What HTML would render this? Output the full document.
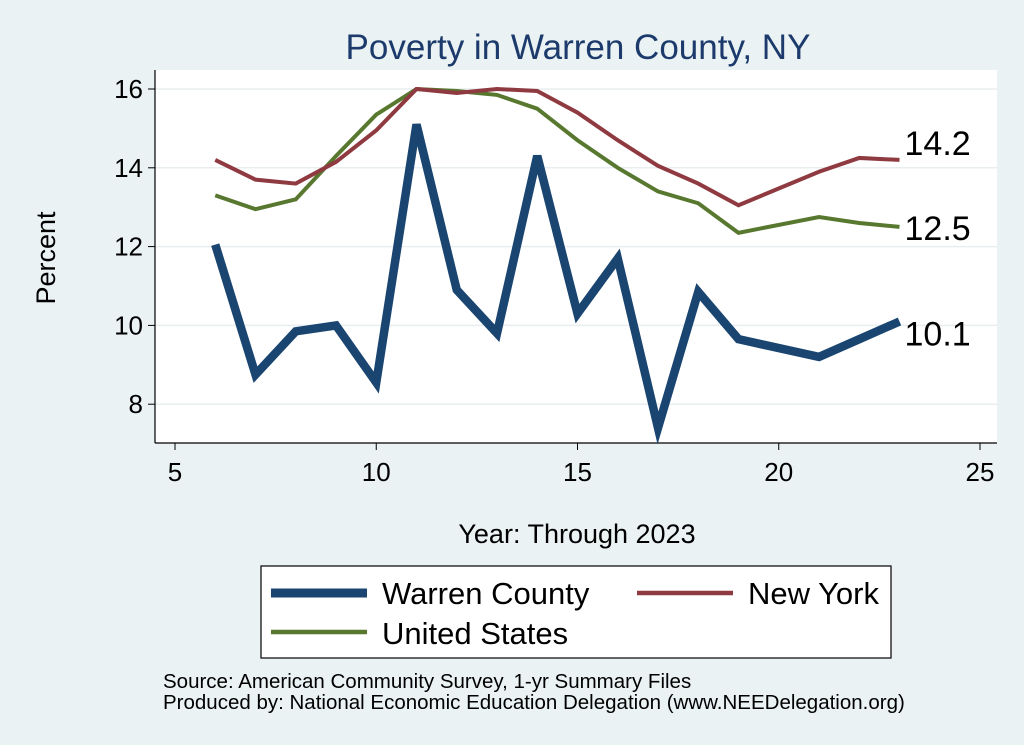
<!DOCTYPE html>
<html><head><meta charset="utf-8"><style>
body{margin:0;background:#eaf2f3;font-family:"Liberation Sans",Arial,sans-serif}
svg{display:block}
</style></head><body>
<svg id="chart" width="1024" height="745" viewBox="0 0 1024 745" xmlns="http://www.w3.org/2000/svg">
<rect width="1024" height="745" fill="#eaf2f3"/>
<rect x="155" y="70" width="842" height="373" fill="#ffffff"/>
<text x="578" y="59" text-anchor="middle" font-size="35" fill="#1c3a6b">Poverty in Warren County, NY</text>
<g id="grid"></g>
<line x1="155" y1="70" x2="155" y2="443" stroke="#000" stroke-width="1.2"/>
<line x1="155" y1="443" x2="997" y2="443" stroke="#000" stroke-width="1.2"/>
<g id="ticks"></g>
<g id="series"></g>
<text x="55" y="258" text-anchor="middle" font-size="27" transform="rotate(-90 55 258)">Percent</text>
<text x="577" y="543" text-anchor="middle" font-size="27">Year: Through 2023</text>
<g>
<rect x="261" y="566" width="630" height="92" fill="#fff" stroke="#000" stroke-width="1.2"/>
<g><line x1="271" y1="593" x2="367" y2="593" stroke="#1a4571" stroke-width="9"/><text x="382" y="604" font-size="31">Warren County</text></g>
<g><line x1="637" y1="593" x2="733" y2="593" stroke="#8f3a40" stroke-width="4.5"/><text x="748" y="604" font-size="31">New York</text></g>
<g><line x1="271" y1="632" x2="367" y2="632" stroke="#58782f" stroke-width="4.5"/><text x="382" y="644" font-size="31">United States</text></g>
</g>
<text x="163" y="688" font-size="20.5">Source: American Community Survey, 1-yr Summary Files</text>
<text x="163" y="709" font-size="20.5">Produced by: National Economic Education Delegation (www.NEEDelegation.org)</text>
</svg>
<script>
const years=[6,7,8,9,10,11,12,13,14,15,16,17,18,19,21,22,23];
const warren=[12.05,8.75,9.85,10.0,8.55,15.1,10.9,9.8,14.3,10.3,11.7,7.4,10.85,9.65,9.2,9.65,10.1];
const newYork=[14.2,13.7,13.6,14.15,14.95,16.0,15.9,16.0,15.95,15.4,14.7,14.05,13.6,13.05,13.9,14.25,14.2];
const unitedStates=[13.3,12.95,13.2,14.3,15.35,16.0,15.95,15.85,15.5,14.7,14.0,13.4,13.1,12.35,12.75,12.6,12.5];
const xTicks=[5,10,15,20,25];
const yTicks=[8,10,12,14,16];
const endLabels=["10.1","14.2","12.5"];
const NS="http://www.w3.org/2000/svg";
const X=v=>175+(v-5)*40.25;
const Y=v=>89+(16-v)*39.4;
function mk(tag,attrs,parent){const e=document.createElementNS(NS,tag);for(const k in attrs)e.setAttribute(k,attrs[k]);parent.appendChild(e);return e;}
const grid=document.getElementById('grid'),ticks=document.getElementById('ticks'),ser=document.getElementById('series');
yTicks.forEach(t=>{
 const g=mk('line',{x1:155,x2:997,y1:Y(t),y2:Y(t),stroke:'#e8eeef','stroke-width':1.5},grid);
 
 
 const tk=mk('line',{x1:148,x2:155,y1:Y(t),y2:Y(t),stroke:'#000'},ticks);
 
 
 const tx=mk('text',{x:143,y:Y(t)+9,'text-anchor':'end','font-size':26},ticks);tx.textContent=t;
 
 
});
xTicks.forEach(t=>{
 const tk=mk('line',{x1:X(t),x2:X(t),y1:443,y2:450,stroke:'#000'},ticks);
 
 
 const tx=mk('text',{x:X(t),y:481,'text-anchor':'middle','font-size':26},ticks);tx.textContent=t;
 
 
});
function line(vals,color,w,name){
 const p=mk('polyline',{points:years.map((y,i)=>X(y)+','+Y(vals[i])).join(' '),fill:'none',stroke:color,'stroke-width':w,'stroke-linejoin':'miter'},ser);
 
 
}
line(unitedStates,'#58782f',4,'us-line');
line(newYork,'#8f3a40',4,'ny-line');
line(warren,'#1a4571',8.5,'warren-line');
const last=years.length-1;
[[warren,0,24],[newYork,1,-5],[unitedStates,2,13]].forEach(([v,i,dy])=>{
 const t=mk('text',{x:X(years[last])+5,y:Y(v[last])+dy,'font-size':34},ser);t.textContent=endLabels[i];
 
 
});
</script>
</body></html>
